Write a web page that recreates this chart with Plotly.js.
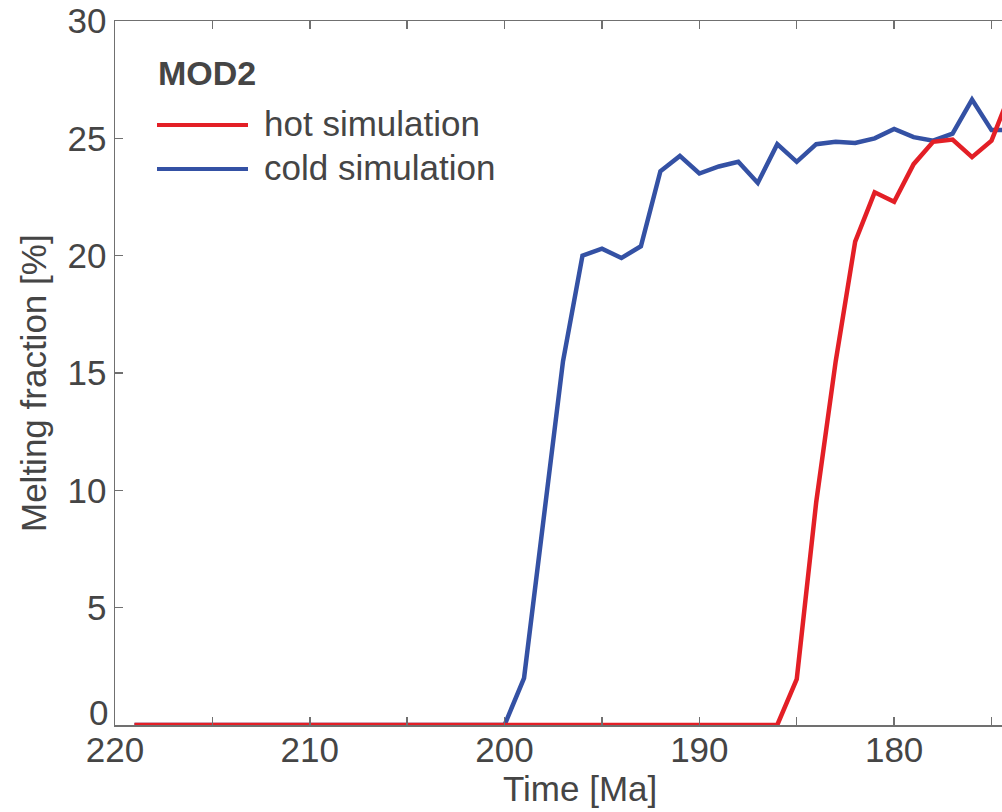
<!DOCTYPE html>
<html>
<head>
<meta charset="utf-8">
<script src="https://cdn.plot.ly/plotly-3.0.1.min.js"></script>
<style>
html,body{margin:0;padding:0;overflow:hidden;background:#fff;}
#chart{width:1020px;height:812px;}
</style>
</head>
<body>
<div id="chart"></div>
<script>
// Time [Ma]
const timeMa = [219,218,217,216,215,214,213,212,211,210,209,208,207,206,205,204,203,202,201,200,
                199,198,197,196,195,194,193,192,191,190,189,188,187,186,185,184,183,182,181,180,
                179,178,177,176,175,174];
// Melting fraction [%] – hot simulation
const hotSim = [0,0,0,0,0,0,0,0,0,0,0,0,0,0,0,0,0,0,0,0,
                0,0,0,0,0,0,0,0,0,0,0,0,0,0,1.95,9.5,15.5,20.6,22.7,22.3,
                23.9,24.85,24.95,24.2,24.9,27.0];
// Melting fraction [%] – cold simulation
const coldSim = [0,0,0,0,0,0,0,0,0,0,0,0,0,0,0,0,0,0,0,0,
                 2.0,8.7,15.5,20.0,20.3,19.9,20.4,23.6,24.25,23.5,23.8,24.0,23.1,24.75,24.0,24.75,24.85,24.8,25.0,25.4,
                 25.05,24.9,25.2,26.65,25.35,25.35];
const seriesNames = ["hot simulation","cold simulation"];
const legendTitle = "MOD2";
const xTitle = "Time [Ma]";
const yTitle = "Melting fraction [%]";
const yTickVals = [5,10,15,20,25,30];
const yZeroLabel = "0";

const RED = "#e31f26";
const BLUE = "#3451a4";
const TXT = "#454545";
const AX = "#707070";
const FONT = "Liberation Sans, Arial, Helvetica, sans-serif";

const traces = [
  {x: timeMa, y: coldSim, type: "scatter", mode: "lines", name: seriesNames[1],
   line: {color: BLUE, width: 4.5}, cliponaxis: false, showlegend: false},
  {x: timeMa, y: hotSim, type: "scatter", mode: "lines", name: seriesNames[0],
   line: {color: RED, width: 4.5}, cliponaxis: false, showlegend: false}
];

const plotW = 1020 - 115 - 9;
const plotH = 812 - 21 - 87;
const px = v => (v - 115) / plotW;
const py = v => (725 - v) / plotH;

const layout = {
  width: 1020, height: 812,
  margin: {l: 115, r: 9, t: 21, b: 87, pad: 0},
  paper_bgcolor: "#fff", plot_bgcolor: "#fff",
  font: {family: FONT, size: 35, color: TXT},
  showlegend: false,
  xaxis: {
    range: [220, 174], autorange: false,
    tickmode: "linear", tick0: 220, dtick: 10,
    ticks: "inside", ticklen: 8, tickwidth: 1.5, tickcolor: AX,
    minor: {dtick: 5, tick0: 220, ticks: "inside", ticklen: 8, tickwidth: 1.5, tickcolor: AX},
    showline: true, linecolor: AX, linewidth: 1.5, mirror: "ticks",
    showgrid: false, zeroline: false, ticklabelstandoff: -7,
    tickfont: {size: 35, color: TXT, family: FONT}
  },
  yaxis: {
    range: [0, 30], autorange: false,
    tickmode: "array", tickvals: yTickVals,
    ticks: "inside", ticklen: 8, tickwidth: 1.5, tickcolor: AX,
    showline: true, linecolor: AX, linewidth: 1.5, mirror: "ticks",
    showgrid: false, zeroline: false,
    tickfont: {size: 35, color: TXT, family: FONT}
  },
  shapes: [
    {type: "line", xref: "paper", yref: "paper", x0: px(157), x1: px(248), y0: py(125), y1: py(125),
     line: {color: RED, width: 4}},
    {type: "line", xref: "paper", yref: "paper", x0: px(157), x1: px(248), y0: py(169), y1: py(169),
     line: {color: BLUE, width: 4}}
  ],
  annotations: [
    {xref: "paper", yref: "y", x: 0, y: 0, xanchor: "right", yanchor: "middle", xshift: -5, yshift: 13,
     text: yZeroLabel, showarrow: false, font: {size: 35, color: TXT, family: FONT}},
    {xref: "paper", yref: "paper", x: px(156), y: py(73), xanchor: "left", yanchor: "middle",
     text: "<b>" + legendTitle + "</b>", showarrow: false, font: {size: 34, color: TXT, family: FONT}},
    {xref: "paper", yref: "paper", x: px(262), y: py(123), xanchor: "left", yanchor: "middle",
     text: seriesNames[0], showarrow: false, font: {size: 35, color: TXT, family: FONT}},
    {xref: "paper", yref: "paper", x: px(262), y: py(167), xanchor: "left", yanchor: "middle",
     text: seriesNames[1], showarrow: false, font: {size: 35, color: TXT, family: FONT}},
    {xref: "paper", yref: "paper", x: px(580), y: py(788), xanchor: "center", yanchor: "middle",
     text: xTitle, showarrow: false, font: {size: 35, color: TXT, family: FONT}},
    {xref: "paper", yref: "paper", x: px(33), y: py(383), xanchor: "center", yanchor: "middle",
     text: yTitle, textangle: -90, showarrow: false, font: {size: 35, color: TXT, family: FONT}}
  ]
};

Plotly.newPlot("chart", traces, layout, {displayModeBar: false, staticPlot: true});
</script>
</body>
</html>
